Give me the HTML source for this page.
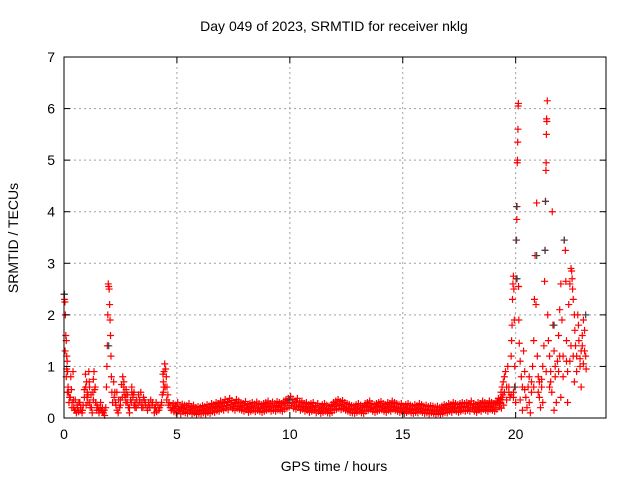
<!DOCTYPE html>
<html><head><meta charset="utf-8"><style>
body{margin:0;background:#fff;}
svg text{font-family:"Liberation Sans",sans-serif;font-size:14px;fill:#000;}
</style></head><body>
<svg id="chart" width="640" height="480" xmlns="http://www.w3.org/2000/svg">
<rect width="640" height="480" fill="#fff"/>
<g id="grid"></g>
<g id="series-red"></g>
<g id="series-gray"></g>
<g id="axes"></g>
<text x="334" y="31" text-anchor="middle">Day 049 of 2023, SRMTID for receiver nklg</text>
<text x="334" y="471" text-anchor="middle">GPS time / hours</text>
<text transform="translate(18,238) rotate(-90)" text-anchor="middle">SRMTID / TECUs</text>
</svg>
<script>
const xTicks=[0,5,10,15,20];
const yTicks=[0,1,2,3,4,5,6,7];
const earlyHours=[0,0.02,0.04,0.06,0.08,0.1,0.12,0.14,0.16,0.18,0.2,0.25,0.3,0.33,0.36,0.4,0.43,0.47,0.5,0.55,0.6,0.65,0.7,0.75,0.8,0.85,0.9,0.95,1.0,1.03,1.06,1.1,1.13,1.16,1.2,1.25,1.3,1.33,1.36,1.4,1.45,1.5,1.55,1.6,1.65,1.7,1.75,1.8,1.85,1.88,1.9,1.92,1.94,1.96,1.98,2.0,2.02,2.04,2.06,2.08,2.1,2.12,2.15,2.2,2.25,2.3,2.35,2.4,2.45,2.5,2.55,2.6,2.65,2.7,2.75,2.8,2.85,2.9,2.95,3.0,3.05,3.1,3.15,3.2,3.3,3.35,3.4,3.45,3.5,3.55,3.6,3.7,3.75,3.8,3.9,4.0,4.05,4.1,4.2,4.3,4.35,4.4,4.43,4.46,4.5,4.53,4.56,4.6,4.65,4.7,4.75];
const earlyTecu=[2.4,2.3,2.25,2.0,1.6,1.5,1.2,1.1,0.9,0.6,0.5,0.4,0.8,0.55,0.3,0.9,0.2,0.15,0.35,0.1,0.2,0.12,0.3,0.15,0.1,0.25,0.4,0.85,0.7,0.5,0.3,0.9,0.6,0.2,0.45,0.1,0.75,0.9,0.55,0.3,0.15,0.2,0.1,0.2,0.15,0.12,0.1,0.05,0.2,0.6,1.0,1.4,2.0,2.6,2.55,2.5,2.2,1.9,1.6,1.2,0.8,0.5,0.3,0.7,0.5,0.25,0.15,0.1,0.2,0.35,0.65,0.8,0.6,0.4,0.55,0.3,0.2,0.1,0.35,0.5,0.4,0.25,0.3,0.2,0.45,0.35,0.5,0.3,0.2,0.35,0.25,0.15,0.3,0.2,0.25,0.1,0.2,0.12,0.15,0.25,0.45,0.7,0.9,1.05,0.95,0.8,0.6,0.45,0.3,0.2,0.15];
const earlyHours2=[0.05,0.1,0.15,0.22,0.28,0.35,0.42,0.5,0.58,0.66,0.74,0.82,0.9,0.98,1.06,1.14,1.22,1.3,1.38,1.46,1.54,1.62,1.7,1.78,2.22,2.28,2.34,2.42,2.5,2.58,2.66,2.74,2.82,2.9,2.98,3.06,3.14,3.22,3.28,3.36,3.44,3.52,3.6,3.68,3.76,3.84,3.92,4.0,4.08,4.16,4.24,4.32,4.4,4.48,4.55,4.62,0.12,0.96,1.02,1.12,1.28,2.65,2.75,3.0,3.1,4.38,4.42];
const earlyTecu2=[1.3,0.8,0.5,0.3,0.4,0.2,0.35,0.15,0.25,0.3,0.2,0.15,0.55,0.25,0.45,0.3,0.2,0.35,0.6,0.25,0.15,0.3,0.2,0.15,0.4,0.3,0.5,0.35,0.25,0.4,0.5,0.3,0.45,0.2,0.3,0.45,0.2,0.35,0.25,0.3,0.2,0.4,0.3,0.2,0.25,0.35,0.3,0.2,0.3,0.25,0.2,0.3,0.5,0.6,0.35,0.25,0.95,0.6,0.4,0.7,0.5,0.7,0.45,0.6,0.5,0.85,0.6];
const baseStartHour=4.8;
const baseStepHour=0.1;
const baseTecu=[.2,.18,.22,.15,.2,.18,.16,.2,.15,.18,
.12,.15,.13,.16,.14,.18,.15,.2,.18,.22,
.2,.25,.22,.28,.24,.3,.26,.22,.28,.25,
.22,.2,.24,.18,.2,.22,.19,.23,.2,.18,
.2,.22,.25,.2,.23,.2,.24,.22,.2,.25,
.28,.3,.35,.28,.25,.3,.22,.25,.2,.22,
.18,.2,.22,.16,.2,.15,.18,.2,.17,.15,
.18,.22,.25,.28,.24,.26,.22,.2,.18,.16,
.15,.18,.2,.17,.15,.2,.22,.25,.2,.18,
.2,.22,.24,.2,.18,.22,.2,.25,.22,.2,
.18,.2,.15,.18,.2,.17,.15,.18,.16,.2,
.18,.15,.17,.14,.16,.15,.13,.15,.12,.15,
.18,.16,.2,.18,.22,.2,.18,.2,.22,.2,
.22,.2,.25,.2,.18,.22,.2,.25,.22,.2,
.25,.22,.2,.25,.3,.28,.35];
const baseTecuHigh=[.28,.25,.3,.22,.27,.25,.24,.28,.22,.25,
.2,.22,.21,.24,.22,.26,.23,.28,.26,.3,
.28,.33,.3,.36,.32,.38,.34,.3,.36,.33,
.3,.28,.32,.26,.28,.3,.27,.31,.28,.26,
.28,.3,.33,.28,.31,.28,.32,.3,.28,.33,
.36,.38,.42,.36,.33,.38,.3,.33,.28,.3,
.26,.28,.3,.24,.28,.23,.26,.28,.25,.23,
.26,.3,.33,.36,.32,.34,.3,.28,.26,.24,
.23,.26,.28,.25,.23,.28,.3,.33,.28,.26,
.28,.3,.32,.28,.26,.3,.28,.33,.3,.28,
.26,.28,.23,.26,.28,.25,.23,.26,.24,.28,
.26,.23,.25,.22,.24,.23,.21,.23,.2,.23,
.26,.24,.28,.26,.3,.28,.26,.28,.3,.28,
.3,.28,.33,.28,.26,.3,.28,.33,.3,.28,
.33,.3,.28,.33,.38,.36,.45];
const baseTecuLow=[.12,.1,.14,.08,.12,.1,.09,.12,.08,.1,
.07,.09,.08,.1,.08,.11,.09,.12,.11,.14,
.13,.17,.15,.19,.16,.21,.18,.15,.19,.17,
.15,.13,.16,.11,.13,.15,.12,.15,.13,.11,
.13,.15,.17,.13,.15,.13,.16,.15,.13,.17,
.19,.21,.24,.19,.17,.21,.15,.17,.13,.15,
.11,.13,.15,.1,.13,.09,.11,.13,.1,.09,
.11,.15,.17,.19,.16,.18,.15,.13,.11,.1,
.09,.11,.13,.1,.09,.13,.15,.17,.13,.11,
.13,.15,.16,.13,.11,.15,.13,.17,.15,.13,
.11,.13,.09,.11,.13,.1,.09,.11,.1,.13,
.11,.09,.1,.08,.1,.09,.07,.09,.07,.09,
.11,.1,.13,.11,.15,.13,.11,.13,.15,.13,
.15,.13,.17,.13,.11,.15,.13,.17,.15,.13,
.17,.15,.13,.17,.21,.19,.25];
const lateHours=[19.3,19.35,19.4,19.45,19.5,19.55,19.6,19.65,19.7,19.75,19.8,19.82,19.84,19.86,19.88,19.9,19.92,19.94,19.96,19.98,20.02,20.04,20.05,20.06,20.07,20.08,20.09,20.1,20.11,20.12,20.13,20.14,20.16,20.2,20.25,20.3,20.35,20.4,20.45,20.5,20.55,20.6,20.65,20.7,20.75,20.8,20.83,20.86,20.9,20.93,20.96,21.0,21.05,21.1,21.15,21.2,21.25,21.28,21.3,21.32,21.34,21.35,21.36,21.37,21.38,21.4,21.42,21.45,21.5,21.55,21.6,21.62,21.65,21.7,21.75,21.8,21.85,21.9,21.95,22.0,22.05,22.1,22.15,22.2,22.22,22.25,22.3,22.35,22.4,22.45,22.48,22.5,22.52,22.55,22.6,22.62,22.65,22.7,22.75,22.78,22.8,22.85,22.9,22.95,23.0,23.05,23.1,23.12,21.05,21.2,21.5,21.7,22.0,22.3,22.6,22.9,20.3,20.0,19.9,20.7,21.9,22.4,23.0,19.4,19.5,19.6,19.7,19.8,19.9,20.2,20.4,20.6,20.8,21.0,21.15,21.35,21.55,21.75,21.95,22.1,22.25,22.45,22.55,22.7,22.85,22.95,23.05];
const lateTecu=[.3,.5,.6,.7,.8,.9,.6,1.0,.5,.4,1.2,1.5,1.8,2.3,2.6,2.75,2.5,1.9,1.0,0.6,2.7,3.45,3.85,4.1,4.95,5.0,5.35,5.6,6.05,6.1,2.55,1.9,1.45,1.1,0.8,0.6,1.3,0.9,0.4,0.2,0.6,0.3,0.1,0.5,1.0,1.5,2.3,3.15,2.2,4.17,1.2,0.8,0.4,0.2,0.6,1.0,1.4,2.65,3.25,4.2,4.8,4.95,5.5,5.8,5.75,6.15,2.0,1.5,1.2,0.9,0.5,4.0,1.8,1.3,0.8,0.3,1.1,1.6,2.1,2.6,1.9,1.2,3.45,3.25,2.65,1.5,0.9,2.2,2.6,2.9,2.85,2.7,2.5,2.3,2.0,1.7,1.4,1.2,2.0,1.8,1.5,1.0,1.3,1.6,1.9,1.7,1.2,0.95,0.7,0.3,0.6,0.15,0.4,0.3,0.7,0.6,0.15,0.3,0.4,0.7,0.9,1.1,1.05,0.4,0.5,0.35,0.6,0.45,0.5,0.35,0.55,0.8,0.6,0.5,0.75,0.9,0.7,1.0,1.2,0.8,1.1,1.4,1.2,0.9,1.15,1.4,1.3];
const grayHours=[0.02,1.98,10.0,20.04,20.02,21.32,21.3,20.93,22.15,21.7,23.1,20.06,19.95];
const grayTecu=[2.4,1.4,0.35,4.1,3.45,4.2,3.25,3.15,3.45,1.8,2.0,2.7,0.6];

const L=64,R=606,T=57,B=418;
const xS=h=>L+h*(R-L)/24;
const yS=v=>B-v*(B-T)/7;
const NS='http://www.w3.org/2000/svg';
function mk(tag,attrs,parent){const e=document.createElementNS(NS,tag);for(const k in attrs)e.setAttribute(k,attrs[k]);parent.appendChild(e);return e;}
const grid=document.getElementById('grid'),axes=document.getElementById('axes');
yTicks.forEach(v=>{
  const y=yS(v);
  if(v>0&&v<7){const g=mk('line',{x1:L,x2:R,y1:y,y2:y,stroke:'#a0a0a0','stroke-dasharray':'2,3','stroke-width':1},grid);
  
  }
  mk('line',{x1:L,x2:L+6,y1:y,y2:y,stroke:'#000'},axes);
  mk('line',{x1:R,x2:R-6,y1:y,y2:y,stroke:'#000'},axes);
  const t=mk('text',{x:L-9,y:y+5,'text-anchor':'end'},axes);t.textContent=v;
  
  
});
xTicks.forEach(h=>{
  const x=xS(h);
  if(h>0){const g=mk('line',{x1:x,x2:x,y1:T,y2:B,stroke:'#a0a0a0','stroke-dasharray':'2,3','stroke-width':1},grid);
  
  }
  mk('line',{x1:x,x2:x,y1:B,y2:B-6,stroke:'#000'},axes);
  mk('line',{x1:x,x2:x,y1:T,y2:T+6,stroke:'#000'},axes);
  const t=mk('text',{x:x,y:B+21,'text-anchor':'middle'},axes);t.textContent=h;
  
  
});
const frame=mk('rect',{x:L,y:T,width:R-L,height:B-T,fill:'none',stroke:'#000','stroke-width':1},axes);


function plus(h,v,color,parent,name){
  const x=xS(h),y=yS(v);
  const p=mk('path',{d:`M${x-3.5},${y}H${x+3.5}M${x},${y-3.5}V${y+3.5}`,stroke:color,'stroke-width':1.2,fill:'none'},parent);
  
  
}
const red=document.getElementById('series-red'),gray=document.getElementById('series-gray');
earlyHours.forEach((h,i)=>plus(h,earlyTecu[i],'#ff0000',red,'srmtid-point'));
earlyHours2.forEach((h,i)=>plus(h,earlyTecu2[i],'#ff0000',red,'srmtid-point'));
baseTecu.forEach((v,i)=>{const h=baseStartHour+i*baseStepHour;plus(h,v,'#ff0000',red,'srmtid-point');});
baseTecuHigh.forEach((v,i)=>{const h=baseStartHour+i*baseStepHour+0.035;plus(h,v,'#ff0000',red,'srmtid-point');});
baseTecuLow.forEach((v,i)=>{const h=baseStartHour+i*baseStepHour+0.07;plus(h,v,'#ff0000',red,'srmtid-point');});
lateHours.forEach((h,i)=>plus(h,lateTecu[i],'#ff0000',red,'srmtid-point'));
grayHours.forEach((h,i)=>plus(h,grayTecu[i],'#404040',gray,'srmtid-gray-point'));
</script>
</body></html>
